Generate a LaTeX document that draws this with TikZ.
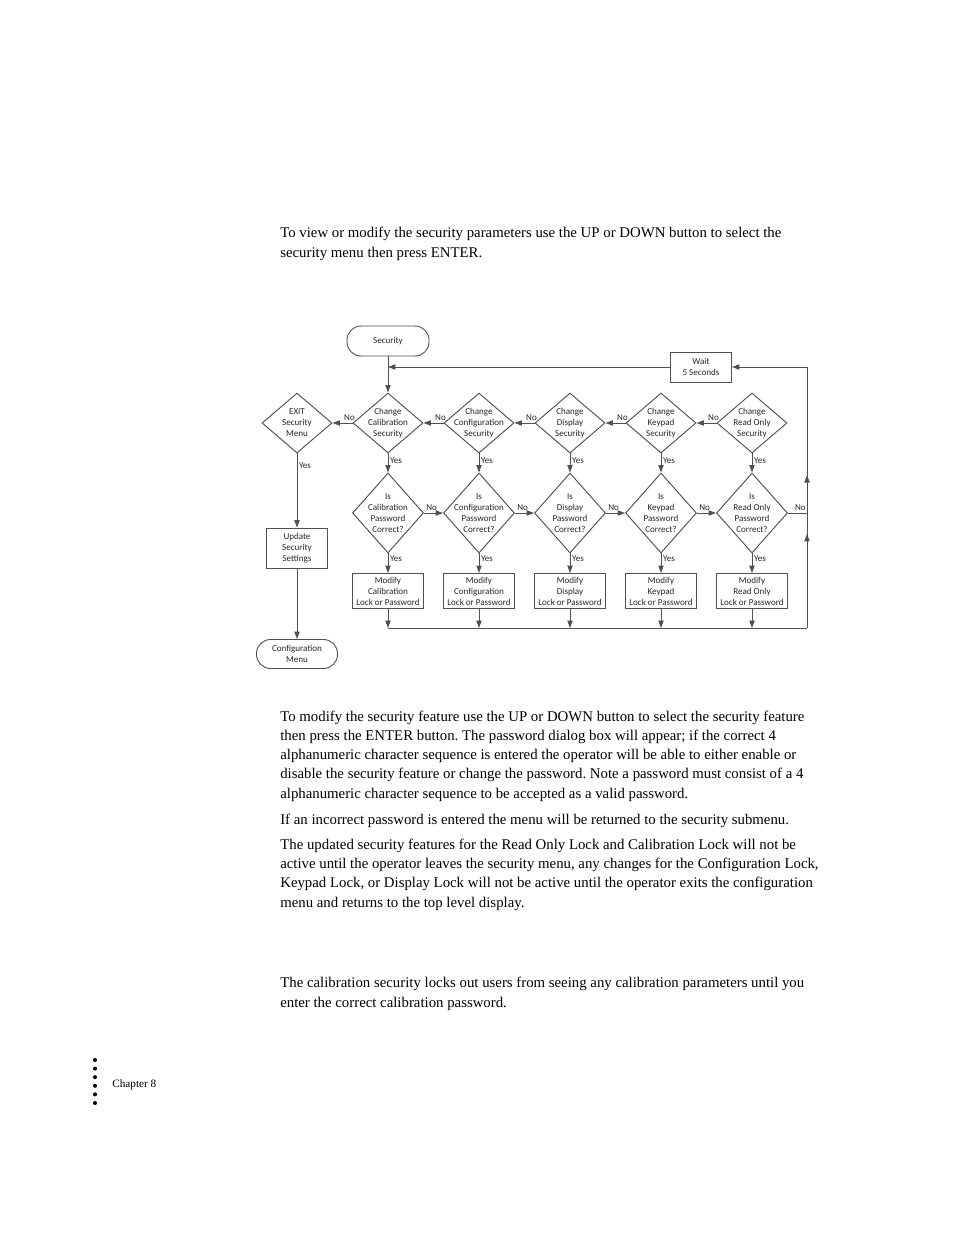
\documentclass[tikz,border=0pt]{standalone}
\usepackage{fontspec}
\setmainfont{Liberation Serif}
\newfontfamily\flowfont{Carlito}
\usetikzlibrary{shapes.geometric,arrows.meta,decorations.markings,calc}
\usepackage{xcolor}
\definecolor{linegray}{RGB}{80,80,80}
\newcommand{\pxu}{0.6415pt}
\frenchspacing
\tikzset{
    flowtext/.style={
        font=\flowfont\fontsize{5.8}{7.1}\selectfont,
        align=center,
        text=black!85
    },
    flowlabel/.style={
        flowtext,
        inner sep=1pt
    },
    terminal/.style={
        rectangle,
        rounded corners=9pt,
        draw=linegray,
        line width=0.6pt,
        flowtext
    },
    processbox/.style={
        rectangle,
        draw=linegray,
        line width=0.6pt,
        inner sep=0pt,
        flowtext
    },
    decision/.style={
        diamond,
        draw=linegray,
        line width=0.6pt,
        inner sep=0pt,
        minimum width=70*\pxu,
        minimum height=60*\pxu,
        label={[flowtext]center:#1}
    },
    pwcheck/.style={
        decision={#1},
        minimum width=71*\pxu,
        minimum height=80*\pxu
    },
    modifybox/.style={
        processbox,
        minimum width=71*\pxu,
        minimum height=35*\pxu
    },
    line/.style={
        draw=linegray,
        line width=0.6pt
    },
    flow/.style={
        line,
        -{Triangle[length=4.8pt,width=3.4pt]}
    },
    bodytext/.style={
        font=\fontsize{9.5}{12.2}\selectfont,
        align=left,
        inner sep=0pt,
        anchor=base west
    }
}

\begin{document}
\begin{tikzpicture}[x=\pxu,y=-\pxu]
    \fill[white] (0,0) rectangle (954,1235);
    \useasboundingbox (0,0) rectangle (954,1235);

    % Intro text (placed by the baseline of its last line)
    \node[bodytext] (intro) at (280,257) {To view or modify the security parameters use the UP or DOWN button to select the\\security menu then press ENTER.};

    % Start / end
    \node[terminal, minimum width=82*\pxu, minimum height=30*\pxu] (security) at (388,341) {Security};
    \node[terminal, minimum width=81*\pxu, minimum height=29*\pxu] (confmenu) at (297,654) {Configuration\\Menu};
    \node[processbox, minimum width=61*\pxu, minimum height=30*\pxu] (wait) at (701,367) {Wait\\5 Seconds};

    % Change diamonds
    \node[decision={EXIT\\Security\\Menu}] (exit) at (297,423) {};
    \node[decision={Change\\Calibration\\Security}] (chgcal) at (388,423) {};
    \node[decision={Change\\Configuration\\Security}] (chgcfg) at (479,423) {};
    \node[decision={Change\\Display\\Security}] (chgdsp) at (570,423) {};
    \node[decision={Change\\Keypad\\Security}] (chgkey) at (661,423) {};
    \node[decision={Change\\Read Only\\Security}] (chgrdo) at (752,423) {};

    % Password diamonds
    \node[pwcheck={Is\\Calibration\\Password\\Correct?}] (pwcal) at (388,513) {};
    \node[pwcheck={Is\\Configuration\\Password\\Correct?}] (pwcfg) at (479,513) {};
    \node[pwcheck={Is\\Display\\Password\\Correct?}] (pwdsp) at (570,513) {};
    \node[pwcheck={Is\\Keypad\\Password\\Correct?}] (pwkey) at (661,513) {};
    \node[pwcheck={Is\\Read Only\\Password\\Correct?}] (pwrdo) at (752,513) {};

    % Modify boxes
    \node[modifybox] (modcal) at (388,591) {Modify\\Calibration\\Lock or Password};
    \node[modifybox] (modcfg) at (479,591) {Modify\\Configuration\\Lock or Password};
    \node[modifybox] (moddsp) at (570,591) {Modify\\Display\\Lock or Password};
    \node[modifybox] (modkey) at (661,591) {Modify\\Keypad\\Lock or Password};
    \node[modifybox] (modrdo) at (752,591) {Modify\\Read Only\\Lock or Password};

    \node[processbox, minimum width=61*\pxu, minimum height=40*\pxu] (update) at (297,548) {Update\\Security\\Settings};

    \coordinate (loopbot) at (807,628);
    \coordinate (looptop) at (807,367);

    % Main flow
    \draw[flow] (security) -- (chgcal);
    \draw[flow] (wait.west) -- (wait.west -| security.south);
    \draw[flow] (chgcal.west) -- node[flowlabel, above, pos=0.15] {No} (exit.east);
    \draw[flow] (chgcfg.west) -- node[flowlabel, above, pos=0.15] {No} (chgcal.east);
    \draw[flow] (chgdsp.west) -- node[flowlabel, above, pos=0.15] {No} (chgcfg.east);
    \draw[flow] (chgkey.west) -- node[flowlabel, above, pos=0.15] {No} (chgdsp.east);
    \draw[flow] (chgrdo.west) -- node[flowlabel, above, pos=0.15] {No} (chgkey.east);

    \draw[flow] (exit) -- node[flowlabel, right, pos=0.16] {Yes} (update);
    \draw[flow] (update) -- (confmenu);

    \foreach \n in {cal,cfg,dsp,key,rdo} {
        \draw[flow] (chg\n) -- node[flowlabel, right, pos=0.35] {Yes} (pw\n);
        \draw[flow] (pw\n) -- node[flowlabel, right, pos=0.25] {Yes} (mod\n);
        \draw[flow] (mod\n) -- (mod\n |- loopbot);
    }

    \draw[flow] (pwcal.east) -- node[flowlabel, above, pos=0.4] {No} (pwcfg.west);
    \draw[flow] (pwcfg.east) -- node[flowlabel, above, pos=0.4] {No} (pwdsp.west);
    \draw[flow] (pwdsp.east) -- node[flowlabel, above, pos=0.4] {No} (pwkey.west);
    \draw[flow] (pwkey.east) -- node[flowlabel, above, pos=0.4] {No} (pwrdo.west);
    \draw[line] (pwrdo.east) -- node[flowlabel, above, pos=0.65] {No} (pwrdo.east -| loopbot);

    % Return loop
    \draw[line] (modcal |- loopbot) -- (loopbot);
    \draw[flow, postaction={decorate}, decoration={markings,
        mark=at position 0.28 with {\arrow{Triangle[length=4.8pt,width=3.4pt]}},
        mark=at position 0.455 with {\arrow{Triangle[length=4.8pt,width=3.4pt]}}}]
        (loopbot) -- (looptop) -- (wait.east);

    % Text below
    \node[bodytext] (modtext) at (280,798) {To modify the security feature use the UP or DOWN button to select the security feature\\then press the ENTER button. The password dialog box will appear; if the correct 4\\alphanumeric character sequence is entered the operator will be able to either enable or\\disable the security feature or change the password. Note a password must consist of a 4\\alphanumeric character sequence to be accepted as a valid password.};
    \node[bodytext] (wrongtext) at (280,824) {If an incorrect password is entered the menu will be returned to the security submenu.};
    \node[bodytext] (activetext) at (280,907) {The updated security features for the Read Only Lock and Calibration Lock will not be\\active until the operator leaves the security menu, any changes for the Configuration Lock,\\Keypad Lock, or Display Lock will not be active until the operator exits the configuration\\menu and returns to the top level display.};
    \node[bodytext] (caltext) at (280,1007) {The calibration security locks out users from seeing any calibration parameters until you\\enter the correct calibration password.};

    % Footer
    \foreach \k in {0,...,5}
        \fill (95,1060+8.6*\k) circle[radius=1.3pt];
    \node[font=\fontsize{7.2}{8.6}\selectfont, inner sep=0pt, anchor=base west] (chapter) at (112,1087) {Chapter 8};
\end{tikzpicture}
\end{document}
